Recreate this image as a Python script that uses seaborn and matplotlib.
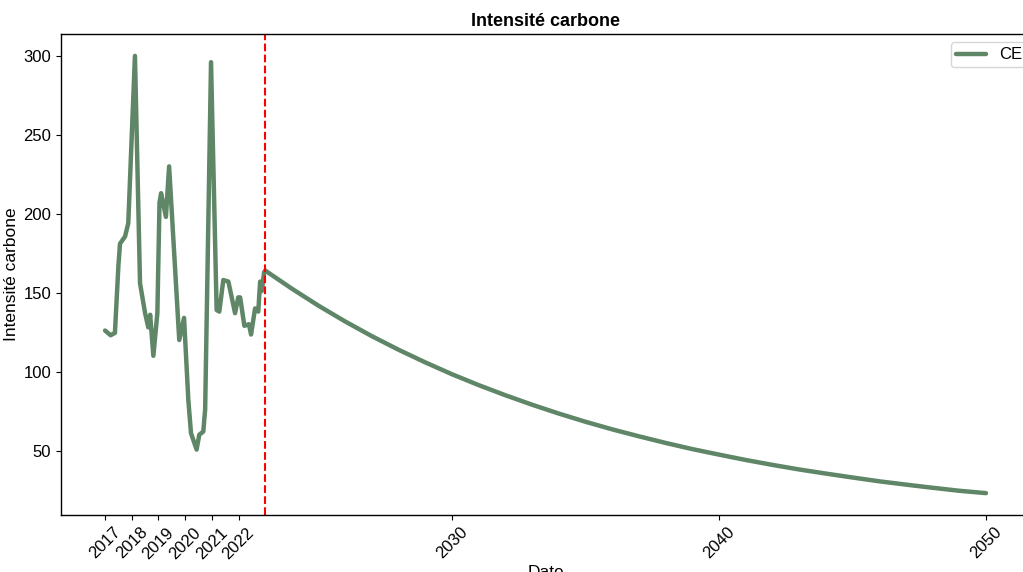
import matplotlib
matplotlib.use("Agg")
import matplotlib.pyplot as plt
import pandas as pd
import seaborn as sns

sns.set_style("ticks")
plt.rcParams['font.family'] = ['Liberation Sans', 'DejaVu Sans']
plt.rcParams['text.color'] = 'black'
plt.rcParams['axes.labelcolor'] = 'black'
plt.rcParams['xtick.color'] = 'black'
plt.rcParams['ytick.color'] = 'black'

# historical series (decimal years)
hist_years = [2017.00, 2017.21, 2017.37, 2017.50, 2017.56, 2017.75, 2017.87, 2018.12,
              2018.31, 2018.50, 2018.62, 2018.69, 2018.81, 2018.96, 2019.04, 2019.10,
              2019.28, 2019.40, 2019.78, 2019.96, 2020.12, 2020.22, 2020.43, 2020.53,
              2020.68, 2020.75, 2020.97, 2021.18, 2021.28, 2021.43, 2021.62, 2021.87,
              2021.99, 2022.06, 2022.22, 2022.39, 2022.47, 2022.62, 2022.74, 2022.81,
              2022.87, 2022.96]
hist_values = [126, 123, 124.5, 167, 181, 185.6, 194, 300,
               156, 137, 128, 136, 110, 137, 207, 213,
               198, 230, 120, 134, 82, 61, 50.6, 60,
               62, 76, 296, 139, 138, 158, 157, 137,
               147, 147, 129, 130, 123.5, 140, 138, 157,
               151, 163]

# projection, one value per year
proj_years = list(range(2023, 2051))
proj_values = [164, 152.5, 141.7, 131.7, 122.4, 113.8, 105.8, 98.3, 91.4, 85.0,
               79.0, 73.4, 68.2, 63.4, 59.0, 54.8, 50.9, 47.4, 44.0, 40.9,
               38.0, 35.4, 32.9, 30.5, 28.4, 26.4, 24.5, 23.0]

tick_years = [2017, 2018, 2019, 2020, 2021, 2022, 2030, 2040, 2050]
cutoff_year = 2023

df = pd.DataFrame({'Date': hist_years + proj_years,
                   'CE': hist_values + proj_values})

fig = plt.figure(figsize=(10.23, 5.72), dpi=100)
ax = fig.add_axes([61 / 1023, 1 - 515 / 572, (1030 - 61) / 1023, (515 - 34) / 572])

sns.lineplot(data=df, x='Date', y='CE', color='#5e8667', linewidth=3.2,
             label='CE', ax=ax, sort=False)
ax.axvline(cutoff_year, color='red', linestyle='--', linewidth=1.5)

ax.set_xticks(tick_years)
ax.set_xticklabels([str(y) for y in tick_years], rotation=45, fontsize=12)
ax.set_yticks([50, 100, 150, 200, 250, 300])
ax.tick_params(axis='y', labelsize=12)
for s in ax.spines.values():
    s.set_color('black')
    s.set_linewidth(1.0)

ax.set_title('Intensité carbone', fontweight='bold', fontsize=13)
ax.set_ylabel('Intensité carbone', fontsize=12.5, labelpad=3)
ax.set_xlabel('Date', fontsize=12.5, labelpad=2)
ax.legend(loc='upper right', fontsize=12, handlelength=1.8, borderpad=0.3,
          bbox_to_anchor=(1.006, 1.0))

fig.savefig('out.png', dpi=100)
